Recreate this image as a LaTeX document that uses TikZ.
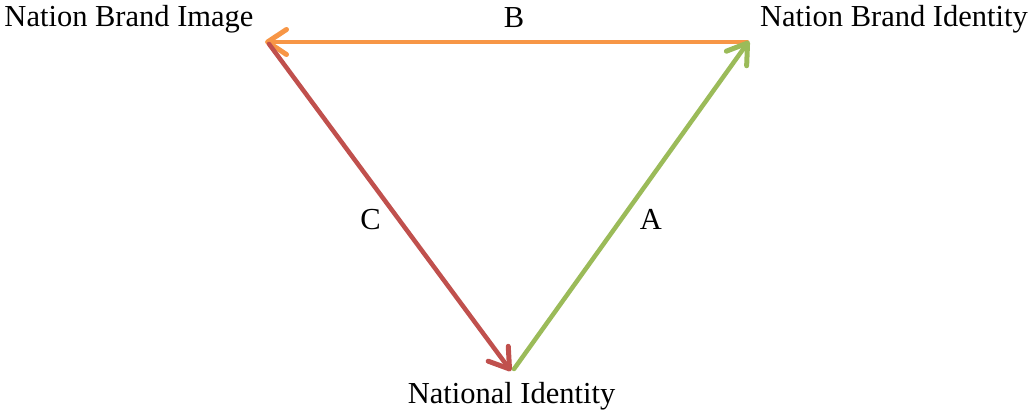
\documentclass[tikz,border=0pt]{standalone}
\usepackage{fontspec}
\setmainfont{Liberation Serif}
\usetikzlibrary{arrows.meta}
\definecolor{bOrange}{HTML}{F79646}
\definecolor{cRed}{HTML}{C0504D}
\definecolor{aGreen}{HTML}{9BBB59}
\tikzset{
  lbl/.style={inner sep=0pt, anchor=base, font=\fontsize{30.5}{36}\selectfont},
  conn/.style={line width=4.5pt, line cap=round, line join=round,
    -{Straight Barb[length=19pt, width=25pt, line width=5pt, line cap=round, line join=round]}}
}
\begin{document}
\begin{tikzpicture}[x=1pt, y=-1pt]
\useasboundingbox (0,0) rectangle (1032,417);
% vertices
\coordinate (imgTip) at (265,42);
\coordinate (imgStart) at (269,44);
\coordinate (idStart) at (747,42);
\coordinate (idTip) at (749,41);
\coordinate (natTip) at (511,371);
\coordinate (natStart) at (514,369);
% labels
\node[lbl] (img) at (129,27) {Nation Brand Image};
\node[lbl] (ident) at (894,27) {Nation Brand Identity};
\node[lbl] (nat) at (511.5,403) {National Identity};
\node[lbl] (B) at (514,28) {B};
\node[lbl] (C) at (370.5,229) {C};
\node[lbl] (A) at (651,229) {A};
% connectors
\draw[conn, draw=bOrange] (idStart) -- (imgTip);
\draw[conn, draw=cRed] (imgStart) -- (natTip);
\draw[conn, draw=aGreen] (natStart) -- (idTip);
\end{tikzpicture}
\end{document}
